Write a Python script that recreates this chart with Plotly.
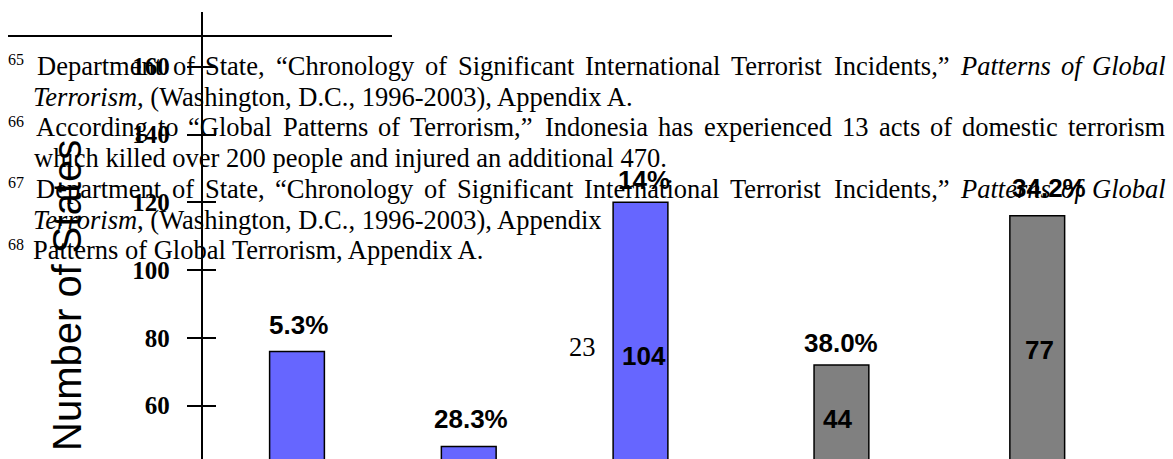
import plotly.graph_objects as go

# ------------------------------------------------------------------ data
bar_slots = [1, 2, 3, 4.17, 5.31]            # category positions of the bars
bar_values = [76, 48, 120, 72, 116]          # number of states
bar_series = ["A", "A", "A", "B", "B"]       # series membership (blue / grey)
pct_labels = ["5.3%", "28.3%", "14%", "38.0%", "34.2%"]
count_labels = ["", "", "104", "44", "77"]
axis_title = "Number of States"
page_number = "23"

# footnote text (page overlay); each entry: superscript, content, justified
fn_sup = ["65", None, "66", None, "67", None, "68"]
fn_content = [
    [("Department", 0), ("of", 0), ("State,", 0), ("“Chronology", 0), ("of", 0),
     ("Significant", 0), ("International", 0), ("Terrorist", 0), ("Incidents,”", 0),
     ("Patterns", 1), ("of", 1), ("Global", 1)],
    "<i>Terrorism</i>, (Washington, D.C., 1996-2003), Appendix A.",
    [("According", 0), ("to", 0), ("“Global", 0), ("Patterns", 0), ("of", 0),
     ("Terrorism,”", 0), ("Indonesia", 0), ("has", 0), ("experienced", 0), ("13", 0),
     ("acts", 0), ("of", 0), ("domestic", 0), ("terrorism", 0)],
    "which killed over 200 people and injured an additional 470.",
    [("Department", 0), ("of", 0), ("State,", 0), ("“Chronology", 0), ("of", 0),
     ("Significant", 0), ("International", 0), ("Terrorist", 0), ("Incidents,”", 0),
     ("Patterns", 1), ("of", 1), ("Global", 1)],
    "<i>Terrorism</i>, (Washington, D.C., 1996-2003), Appendix",
    "Patterns of Global Terrorism, Appendix A.",
]

# ------------------------------------------------------------------ layout constants
W, H = 1173, 459
PLOT_LEFT = 202.7      # px, left edge of plot area
PLOT_TOP = 12          # px
X_UNIT = 171.75        # px per category unit
FIRST_PX = 297         # px centre of first slot
Y_PX_PER = 3.39        # px per state
Y60_PX = 405.7         # px of value 60

x_left = bar_slots[0] - (FIRST_PX - PLOT_LEFT) / X_UNIT
x_right = bar_slots[0] + (W - FIRST_PX) / X_UNIT
y_bottom = 60 - (H - Y60_PX) / Y_PX_PER
y_top = 60 + (Y60_PX - PLOT_TOP) / Y_PX_PER

SANS = "Liberation Sans"
SERIF = "Liberation Serif"
FS = 26.5
colors = {"A": "#6666FF", "B": "#808080"}


def px(x):
    return x / W


def py(y):
    return 1 - y / H


ROMAN = {' ': 250, ',': 250, '.': 250, '(': 333, ')': 333, '-': 333, '“': 444, '”': 444,
         'A': 722, 'C': 667, 'D': 722, 'G': 722, 'I': 333, 'P': 556, 'S': 556, 'T': 611,
         'W': 944, 'a': 444, 'b': 500, 'c': 444, 'd': 500, 'e': 444, 'f': 333, 'g': 500,
         'h': 500, 'i': 278, 'j': 278, 'k': 500, 'l': 278, 'm': 778, 'n': 500, 'o': 500,
         'p': 500, 'r': 333, 's': 389, 't': 278, 'u': 500, 'v': 500, 'w': 722, 'x': 500,
         'y': 500}
for d in "0123456789":
    ROMAN[d] = 500
ITALIC = {' ': 250, 'P': 611, 'G': 722, 'T': 556, 'a': 500, 'b': 500, 'e': 444, 'f': 278,
          'i': 278, 'l': 278, 'm': 722, 'n': 500, 'o': 500, 'r': 389, 's': 389, 't': 278}


def word_width(word, italic):
    table = ITALIC if italic else ROMAN
    return sum(table.get(c, 500) for c in word) / 1000 * FS


fig = go.Figure()
fig.add_trace(go.Bar(
    x=bar_slots, y=bar_values, width=0.319,
    marker=dict(color=[colors[s] for s in bar_series], line=dict(color="black", width=1.5)),
    hoverinfo="skip", showlegend=False,
))
# helper trace on overlay axis (inner half of the crossing ticks)
fig.add_trace(go.Scatter(x=[None], y=[None], yaxis="y2", showlegend=False, hoverinfo="skip"))

ann = []
# footnotes
line_left = [37, 33, 35.5, 33.5, 36, 33, 32.5]
RIGHT = 1165.5
BASE0, STEP = 75, 30.7
for i, (sup, content) in enumerate(zip(fn_sup, fn_content)):
    base = BASE0 + i * STEP
    cy = base - 0.3375 * FS
    if sup:
        ann.append(dict(text=sup, x=px(8.3), y=py(base - 15), xref="paper", yref="paper",
                        xanchor="left", yanchor="middle", showarrow=False,
                        borderpad=0, borderwidth=0,
                        font=dict(family=SERIF, size=16, color="black")))
    if isinstance(content, list):
        widths = [word_width(w, it) for w, it in content]
        gap = (RIGHT - line_left[i] - sum(widths)) / (len(content) - 1)
        xcur = line_left[i]
        for (w, it), wd in zip(content, widths):
            ann.append(dict(text=f"<i>{w}</i>" if it else w, x=px(xcur), y=py(cy),
                            xref="paper", yref="paper", xanchor="left", yanchor="middle",
                            showarrow=False, borderpad=0, borderwidth=0,
                            font=dict(family=SERIF, size=FS, color="black")))
            xcur += wd + gap
    else:
        ann.append(dict(text=content, x=px(line_left[i]), y=py(cy), xref="paper", yref="paper",
                        xanchor="left", yanchor="middle", showarrow=False,
                        borderpad=0, borderwidth=0,
                        font=dict(family=SERIF, size=FS, color="black")))

# page number
ann.append(dict(text=page_number, x=px(582.5), y=py(347), xref="paper", yref="paper",
                xanchor="center", yanchor="middle", showarrow=False, borderpad=0, borderwidth=0,
                font=dict(family=SERIF, size=FS, color="black")))

# axis title
ann.append(dict(text=axis_title, textangle=-90, x=px(67), y=py(296), xref="paper", yref="paper",
                xanchor="center", yanchor="middle", showarrow=False, borderpad=0, borderwidth=0,
                font=dict(family=SANS, size=40, color="black")))

# bar labels
top_gap = [26, 27, 22, 22, 28]
top_dx = [1, 2.5, 3.5, -0.5, 12]
inner_level = [None, None, 74.7, 56.2, 76.4]
inner_dx = [0, 0, 3.3, -4, 2]
for i, (xv, yv) in enumerate(zip(bar_slots, bar_values)):
    ann.append(dict(text=pct_labels[i], x=xv, y=yv, xref="x", yref="y", xanchor="center",
                    yanchor="middle", yshift=top_gap[i], xshift=top_dx[i], showarrow=False,
                    borderpad=0, borderwidth=0,
                    font=dict(family=SANS, size=26, color="black", weight="bold")))
    if count_labels[i]:
        ann.append(dict(text=count_labels[i], x=xv, y=inner_level[i], xref="x", yref="y",
                        xanchor="center", yanchor="middle", xshift=inner_dx[i], showarrow=False,
                        borderpad=0, borderwidth=0,
                        font=dict(family=SANS, size=26, color="black", weight="bold")))

fig.update_layout(
    width=W, height=H, autosize=False,
    margin=dict(l=0, r=0, t=0, b=0, pad=0),
    paper_bgcolor="white", plot_bgcolor="white",
    showlegend=False, annotations=ann,
    shapes=[dict(type="line", xref="paper", yref="paper", x0=px(8), x1=px(392),
                 y0=py(36), y1=py(36), line=dict(color="black", width=2))],
    xaxis=dict(domain=[px(PLOT_LEFT), 1], range=[x_left, x_right], visible=False,
               fixedrange=True),
    yaxis=dict(domain=[0, py(PLOT_TOP)], range=[y_bottom, y_top], tickmode="linear",
               tick0=0, dtick=20, ticks="outside", ticklen=14, tickwidth=2,
               tickcolor="black", showline=True, linewidth=2, linecolor="black",
               showgrid=False, zeroline=False, automargin=False, ticklabelstandoff=12,
               tickfont=dict(family=SERIF, size=25, color="black", weight="bold"),
               fixedrange=True),
    yaxis2=dict(overlaying="y", anchor="x", side="left", range=[y_bottom, y_top],
                tickmode="linear", tick0=0, dtick=20, ticks="inside", ticklen=13,
                tickwidth=2, tickcolor="black", showticklabels=False, showline=False,
                showgrid=False, zeroline=False, fixedrange=True),
)

fig.write_html("out.html", config={"displayModeBar": False},
               post_script="document.body.style.margin='0';document.body.style.overflow='hidden';")
